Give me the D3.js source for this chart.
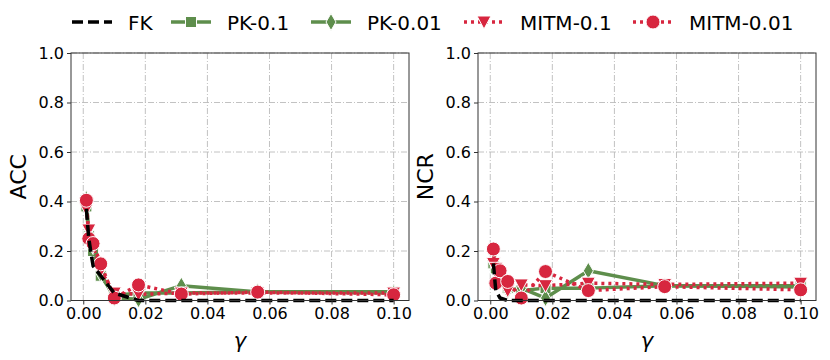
<!DOCTYPE html>
<html><head><meta charset="utf-8">
<script src="https://cdn.jsdelivr.net/npm/d3@7"></script>
<style>body{margin:0;background:#fff}svg{display:block;font-family:"DejaVu Sans",sans-serif}</style>
</head><body><svg id="c" width="830" height="360"></svg>
<script>
const gammas = [0.001, 0.00178, 0.00316, 0.00562, 0.01, 0.0178, 0.0316, 0.0562, 0.1];
const xTicks = [0.00, 0.02, 0.04, 0.06, 0.08, 0.10];
const yTicks = [0.0, 0.2, 0.4, 0.6, 0.8, 1.0];
const seriesNames = ["FK", "PK-0.1", "PK-0.01", "MITM-0.1", "MITM-0.01"];
// ACC panel
const accFK     = [0.37, 0.25, 0.14, 0.10, 0.03, 0.00, 0.00, 0.00, 0.00];
const accPK01   = [0.38, 0.26, 0.20, 0.10, 0.02, 0.03, 0.03, 0.035, 0.035];
const accPK001  = [0.41, 0.27, 0.22, 0.11, 0.01, 0.005, 0.06, 0.035, 0.03];
const accMITM01 = [0.37, 0.285, 0.22, 0.12, 0.03, 0.025, 0.03, 0.03, 0.03];
const accMITM001= [0.405, 0.25, 0.23, 0.148, 0.01, 0.063, 0.026, 0.034, 0.023];
// NCR panel
const ncrFK     = [0.15, 0.04, 0.01, 0.00, 0.00, 0.00, 0.00, 0.00, 0.00];
const ncrPK01   = [0.15, 0.13, 0.09, 0.05, 0.04, 0.05, 0.05, 0.06, 0.06];
const ncrPK001  = [0.157, 0.15, 0.08, 0.04, 0.05, 0.01, 0.12, 0.06, 0.055];
const ncrMITM01 = [0.15, 0.13, 0.08, 0.04, 0.063, 0.06, 0.07, 0.065, 0.07];
const ncrMITM001= [0.208, 0.07, 0.12, 0.077, 0.01, 0.117, 0.04, 0.056, 0.043];

const green = "#5e8e4c", red = "#d7263f";
const styles = [
  {color:"#000", dash:"11,5", marker:null, width:3.5},
  {color:green, dash:null, marker:"square", width:3.5},
  {color:green, dash:null, marker:"diamond", width:3.5},
  {color:red, dash:"3,4", marker:"triangle-down", width:3.5},
  {color:red, dash:"3,4", marker:"circle", width:3.5}
];
const panels = [
  {label:"ACC", left:71, right:409, data:[accFK, accPK01, accPK001, accMITM01, accMITM001]},
  {label:"NCR", left:478, right:816, data:[ncrFK, ncrPK01, ncrPK001, ncrMITM01, ncrMITM001]}
];
const yTop = 53, yBottom = 300.5;
const svg = d3.select("#c");

function drawMarker(g, type, x, y, color){
  if(!type) return;
  if(type==="circle"){
    g.append("circle").attr("cx",x).attr("cy",y).attr("r",7).attr("fill",color).attr("stroke","#fff").attr("stroke-width",1);
  } else if(type==="square"){
    g.append("rect").attr("x",x-5.5).attr("y",y-5.5).attr("width",11).attr("height",11).attr("fill",color).attr("stroke","#fff").attr("stroke-width",1);
  } else if(type==="diamond"){
    g.append("path").attr("d",`M${x},${y-8.5}L${x+5},${y}L${x},${y+8.5}L${x-5},${y}Z`).attr("fill",color).attr("stroke","#fff").attr("stroke-width",1);
  } else if(type==="triangle-down"){
    g.append("path").attr("d",`M${x-7},${y-6}L${x+7},${y-6}L${x},${y+7}Z`).attr("fill",color).attr("stroke","#fff").attr("stroke-width",1);
  }
}

panels.forEach(p=>{
  const x = d3.scaleLinear().domain([-0.00395, 0.10495]).range([p.left, p.right]);
  const y = d3.scaleLinear().domain([0,1]).range([yBottom, yTop]);
  const g = svg.append("g");
  // grid
  g.append("g").selectAll("line").data(xTicks).join("line")
    .attr("x1",d=>x(d)).attr("x2",d=>x(d)).attr("y1",yTop).attr("y2",yBottom)
    .attr("stroke","#bbb").attr("stroke-width",0.9).attr("stroke-dasharray","6,2,1,2");
  g.append("g").selectAll("line").data(yTicks).join("line")
    .attr("x1",p.left).attr("x2",p.right).attr("y1",d=>y(d)).attr("y2",d=>y(d))
    .attr("stroke","#bbb").attr("stroke-width",0.9).attr("stroke-dasharray","6,2,1,2");
  const line = d3.line().x((d,i)=>x(gammas[i])).y(d=>y(d));
  const lg = g.append("g");
  const order = [1,2,3,4,0];
  order.forEach(si=>{
    const s = styles[si], vals = p.data[si];
    lg.append("path").datum(vals).attr("d",line).attr("fill","none")
      .attr("stroke",s.color).attr("stroke-width",s.width)
      .attr("stroke-dasharray",s.dash).attr("stroke-linejoin","round");
    const mg = lg.append("g");
    vals.forEach((v,i)=>drawMarker(mg, s.marker, x(gammas[i]), y(v), s.color));
  });
  // axes
  const ax = g.append("g").attr("transform",`translate(0,${yBottom})`)
    .call(d3.axisBottom(x).tickValues(xTicks).tickFormat(d3.format(".2f")).tickSizeOuter(0).tickSize(4).tickPadding(3));
  const ay = g.append("g").attr("transform",`translate(${p.left},0)`)
    .call(d3.axisLeft(y).tickValues(yTicks).tickFormat(d3.format(".1f")).tickSizeOuter(0).tickSize(4).tickPadding(3));
  [ax,ay].forEach(a=>{
    a.select(".domain").remove();
    a.selectAll("text").attr("font-size",16).attr("fill","#000").attr("font-family","DejaVu Sans");
    a.selectAll("line").attr("stroke","#333");
  });
  // frame
  g.append("rect").attr("x",p.left).attr("y",yTop).attr("width",p.right-p.left).attr("height",yBottom-yTop)
    .attr("fill","none").attr("stroke","#333").attr("stroke-width",1);
  // labels
  g.append("text").attr("x",(p.left+p.right)/2).attr("y",348).attr("text-anchor","middle")
    .attr("font-size",21).attr("font-style","italic").text("γ");
  g.append("text").attr("transform",`translate(${p.left-45},${(yTop+yBottom)/2}) rotate(-90)`)
    .attr("text-anchor","middle").attr("font-size",22).text(p.label);
});

// legend
const legX = [72, 171, 311, 464, 633];
const leg = svg.append("g");
seriesNames.forEach((n,i)=>{
  const s = styles[i], x0 = legX[i], y0 = 22;
  leg.append("line").attr("x1",x0).attr("x2",x0+40).attr("y1",y0).attr("y2",y0)
    .attr("stroke",s.color).attr("stroke-width",3.5).attr("stroke-dasharray",s.dash);
  drawMarker(leg, s.marker, x0+20, y0, s.color);
  leg.append("text").attr("x",x0+56).attr("y",y0+7.5).attr("font-size",20).text(n);
});
</script></body></html>
